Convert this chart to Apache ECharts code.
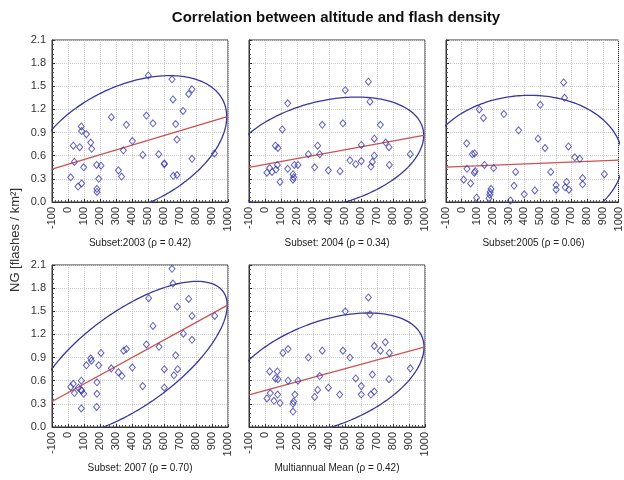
<!DOCTYPE html>
<html><head><meta charset="utf-8">
<script src="https://cdn.jsdelivr.net/npm/echarts@6/dist/echarts.min.js"></script>
<style>html,body{margin:0;padding:0;background:#fff}#c{width:624px;height:480px}</style>
</head><body><div id="c"></div>
<script>
// ---- text ----
const chartTitle = 'Correlation between altitude and flash density';
const yAxisTitle = 'NG [flashes / km²]';
const panelLabels = ['Subset:2003 (ρ = 0.42)', 'Subset: 2004 (ρ = 0.34)', 'Subset:2005 (ρ = 0.06)',
                     'Subset: 2007 (ρ = 0.70)', 'Multiannual Mean (ρ = 0.42)'];

// ---- data: [altitude (m), NG (flashes/km²)] ----
const subset2003 = [[502,1.64],[650,1.59],[775,1.46],[754,1.40],[656,1.33],[719,1.18],[271,1.10],[490,1.12],
  [365,1.00],[531,1.02],[673,1.01],[83,0.98],[85,0.92],[115,0.88],[402,0.79],[681,0.81],[142,0.77],[148,0.69],
  [33,0.73],[73,0.71],[346,0.67],[467,0.61],[567,0.62],[915,0.63],[602,0.50],[602,0.49],[775,0.56],[40,0.52],
  [98,0.45],[179,0.48],[206,0.47],[17,0.32],[315,0.41],[335,0.33],[192,0.30],[85,0.24],[63,0.20],[658,0.34],
  [681,0.35],[181,0.17],[181,0.13]];
const subset2004 = [[646,1.56],[502,1.45],[656,1.30],[142,1.28],[487,1.02],[358,1.00],[721,1.00],[108,0.94],
  [683,0.82],[65,0.73],[81,0.70],[329,0.73],[602,0.74],[754,0.77],[775,0.71],[271,0.62],[342,0.62],[908,0.62],
  [683,0.60],[531,0.54],[602,0.53],[671,0.52],[567,0.49],[662,0.46],[777,0.48],[77,0.48],[183,0.48],[206,0.48],
  [310,0.45],[142,0.43],[29,0.44],[69,0.42],[396,0.41],[469,0.40],[12,0.38],[44,0.39],[175,0.36],[179,0.32],
  [175,0.29],[94,0.26]];
const subset2005 = [[650,1.55],[656,1.35],[501,1.26],[112,1.20],[269,1.14],[139,1.09],[363,0.93],[32,0.76],
  [487,0.82],[531,0.70],[681,0.72],[68,0.62],[82,0.63],[721,0.58],[753,0.56],[145,0.48],[204,0.44],[34,0.43],
  [86,0.40],[80,0.38],[344,0.39],[568,0.39],[910,0.36],[771,0.31],[13,0.29],[57,0.24],[669,0.26],[771,0.23],
  [334,0.21],[602,0.22],[602,0.16],[660,0.19],[684,0.16],[466,0.15],[399,0.10],[187,0.17],[181,0.13],[179,0.095],
  [174,0.05],[95,0.056],[311,0.02]];
const subset2007 = [[650,2.05],[656,1.86],[504,1.67],[754,1.66],[683,1.56],[775,1.44],[917,1.44],[531,1.31],
  [721,1.21],[775,1.13],[490,1.07],[569,1.04],[365,1.01],[348,0.99],[206,0.96],[673,0.93],[142,0.89],[146,0.86],
  [115,0.80],[192,0.80],[402,0.77],[271,0.76],[602,0.75],[685,0.75],[315,0.71],[337,0.66],[662,0.67],[83,0.60],
  [33,0.56],[181,0.58],[17,0.52],[65,0.51],[81,0.48],[40,0.44],[85,0.47],[98,0.43],[467,0.53],[602,0.51],
  [181,0.43],[83,0.24],[179,0.26]];
const multiannualMean = [[646,1.68],[502,1.50],[656,1.46],[752,1.10],[683,1.05],[721,0.99],[777,0.96],[112,0.96],
  [144,1.01],[358,0.99],[487,0.99],[271,0.90],[531,0.90],[29,0.72],[77,0.72],[65,0.63],[81,0.62],[144,0.60],
  [206,0.60],[342,0.66],[671,0.68],[908,0.76],[567,0.63],[775,0.62],[602,0.53],[329,0.48],[396,0.51],[683,0.46],
  [662,0.42],[602,0.42],[467,0.42],[79,0.42],[33,0.44],[187,0.42],[310,0.39],[12,0.37],[56,0.34],[94,0.31],
  [179,0.33],[175,0.30],[175,0.20]];

// ---- 95% ellipse statistics: [meanAlt, meanNG, spreadAlt, spreadNG, rho] ----
const ellipse2003 = [380, 0.724, 612, 0.914, 0.417];
const ellipse2004 = [377, 0.630, 615, 0.730, 0.320];
const ellipse2005 = [397, 0.493, 630, 0.890, 0.060];
const ellipse2007 = [390, 0.888, 605, 1.000, 0.689];
const ellipseMean = [377, 0.687, 617, 0.791, 0.440];

const panelData = [subset2003, subset2004, subset2005, subset2007, multiannualMean];
const panelStats = [ellipse2003, ellipse2004, ellipse2005, ellipse2007, ellipseMean];

// ---- layout ----
const FONT = '"Liberation Sans", Arial, sans-serif';
const gridBoxes = [
  {left: 52, top: 40, width: 176, height: 162},
  {left: 249, top: 40, width: 176, height: 162},
  {left: 446, top: 40, width: 175, height: 162},
  {left: 52, top: 265, width: 176, height: 162},
  {left: 249, top: 265, width: 176, height: 162}
];

function ellipsePoints(s) {
  const [mx, my, kx, ky, r] = s;
  const q = Math.sqrt(1 - r * r);
  const pts = [];
  for (let i = 0; i <= 240; i++) {
    const t = i / 240 * 2 * Math.PI;
    pts.push([mx + kx * Math.cos(t), my + ky * (r * Math.cos(t) + q * Math.sin(t))]);
  }
  return pts;
}
function regressionPoints(s) {
  const [mx, my, kx, ky, r] = s;
  const slope = r * ky / kx;
  return [[-100, my + slope * (-100 - mx)], [1000, my + slope * (1000 - mx)]];
}

const grid = [], xAxis = [], yAxis = [], series = [], graphic = [];
gridBoxes.forEach((g, i) => {
  grid.push(Object.assign({show: true, borderColor: '#333', borderWidth: 1, backgroundColor: '#fff'}, g));
  xAxis.push({
    type: 'value', gridIndex: i, min: -100, max: 1000, interval: 100,
    axisLine: {show: true, onZero: false, lineStyle: {color: '#333'}},
    axisTick: {show: true, inside: true, length: 3, lineStyle: {color: '#333'}},
    minorTick: {show: true, splitNumber: 5, length: 2, lineStyle: {color: '#555'}},
    axisLabel: {rotate: 90, fontSize: 11, color: '#333', fontFamily: FONT, margin: 5,
                formatter: v => String(Math.round(v))},
    splitLine: {show: true, lineStyle: {color: '#cccccc', type: 'dotted'}}
  });
  yAxis.push({
    type: 'value', gridIndex: i, min: 0, max: 2.1, interval: 0.3,
    axisLine: {show: true, onZero: false, lineStyle: {color: '#333'}},
    axisTick: {show: true, inside: true, length: 3, lineStyle: {color: '#333'}},
    minorTick: {show: true, splitNumber: 5, length: 2, lineStyle: {color: '#555'}},
    axisLabel: {show: i === 0 || i === 3, fontSize: 11, color: '#333', fontFamily: FONT, margin: 6,
                formatter: v => v.toFixed(1)},
    splitLine: {show: true, lineStyle: {color: '#cccccc', type: 'dotted'}}
  });
  series.push({
    type: 'line', xAxisIndex: i, yAxisIndex: i, data: ellipsePoints(panelStats[i]),
    showSymbol: false, clip: true, silent: true, z: 3,
    lineStyle: {color: '#3838a0', width: 1.3}
  });
  series.push({
    type: 'line', xAxisIndex: i, yAxisIndex: i, data: regressionPoints(panelStats[i]),
    showSymbol: false, clip: true, silent: true, z: 4,
    lineStyle: {color: '#d05050', width: 1.3}
  });
  series.push({
    type: 'scatter', xAxisIndex: i, yAxisIndex: i, data: panelData[i], z: 5,
    symbol: 'diamond', symbolSize: [6, 7],
    itemStyle: {color: 'rgba(255,255,255,0)', borderColor: '#3a3ab4', borderWidth: 1}
  });
  graphic.push({
    type: 'text', x: g.left + g.width / 2, y: g.top + g.height + 41,
    style: {text: panelLabels[i], font: '10px ' + FONT, fill: '#222', textAlign: 'center', textVerticalAlign: 'middle'}
  });
});
graphic.push({
  type: 'text', x: 336, y: 18,
  style: {text: chartTitle, font: 'bold 15px ' + FONT, fill: '#111', textAlign: 'center', textVerticalAlign: 'middle'}
});
graphic.push({
  type: 'text', x: 15, y: 240, rotation: Math.PI / 2,
  style: {text: yAxisTitle, font: '13px ' + FONT, fill: '#333', textAlign: 'center', textVerticalAlign: 'middle'}
});

const chart = echarts.init(document.getElementById('c'), null, {renderer: 'canvas'});
chart.setOption({animation: false, backgroundColor: '#fff', grid, xAxis, yAxis, series, graphic});
</script></body></html>
